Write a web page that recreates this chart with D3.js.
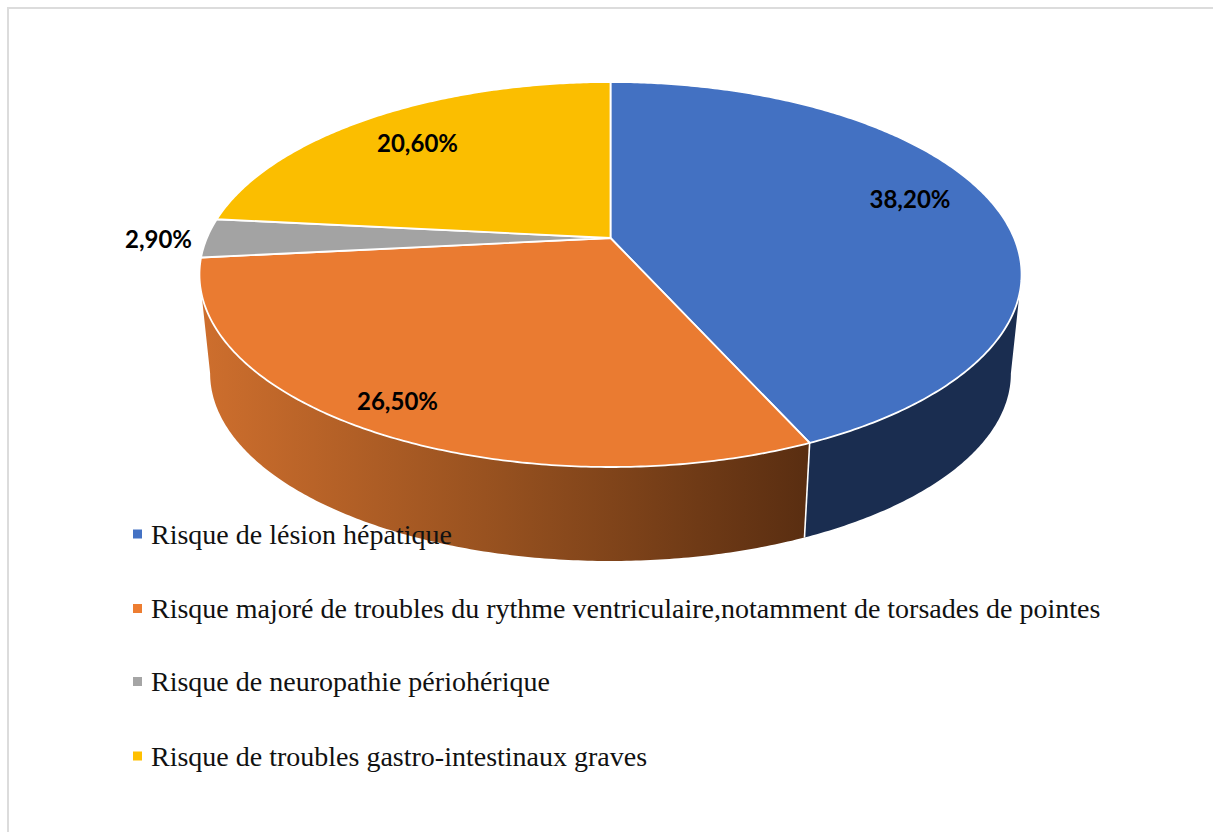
<!DOCTYPE html>
<html>
<head>
<meta charset="utf-8">
<script src="https://cdn.jsdelivr.net/npm/d3@7"></script>
<style>
html,body{margin:0;padding:0;background:#fff;overflow:hidden}
svg{display:block}
</style>
</head>
<body>
<div id="chart"></div>
<script>
// Data
const categories = [
  "Risque de lésion hépatique",
  "Risque majoré de troubles du rythme ventriculaire,notamment de torsades de pointes",
  "Risque de neuropathie périohérique",
  "Risque de troubles gastro-intestinaux graves"
];
const values = [38.2, 26.5, 2.9, 20.6];
const valueLabels = ["38,20%", "26,50%", "2,90%", "20,60%"];
const colors = ["#4472c4", "#ed7d31", "#a5a5a5", "#ffc000"];
const topColors = ["#4371c2", "#ea7b31", "#a3a3a3", "#fbbe00"];

// Layout
const W = 1213, H = 832;
const pivot = {x: 610.5, y: 238};
const persp = {k: -0.1896, ax: 403.6, ay: 185.6};
const wallApex = {x: 610.5, y: 4081}, wallScale = 0.974;
const labelAnchors = [[910, 198], [397.5, 400], [158.5, 238], [417.5, 142]];
const legendRowY = [534, 608.5, 681.5, 756];

const svg = d3.select("#chart").append("svg").attr("width", W).attr("height", H);

svg.append("path")
  .attr("d", d3.line()([[8, H], [8, 8], [W, 8]]))
  .attr("fill", "none").attr("stroke", "#dcdcdc").attr("stroke-width", 2);

const defs = svg.append("defs");
const grad = defs.append("linearGradient").attr("id", "wallOrange")
  .attr("gradientUnits", "userSpaceOnUse")
  .attr("x1", 205).attr("x2", 805).attr("y1", 0).attr("y2", 0);
[[0, "#cd6e2d"], [0.5, "#95501f"], [1, "#5a2e11"]].forEach(([o, c]) =>
  grad.append("stop").attr("offset", o).attr("stop-color", c));

const arcs = d3.pie().sort(null).value(d => d)(values);

// plan (angle, radius) to perspective screen position
function project(theta, r = 1) {
  const px = r * Math.sin(theta), py = -r * Math.cos(theta);
  const w = 1 + persp.k * py;
  return [pivot.x + persp.ax * px / w, pivot.y + persp.ay * py / w];
}
const lower = ([x, y]) => [
  wallApex.x + wallScale * (x - wallApex.x),
  wallApex.y + wallScale * (y - wallApex.y)
];
function samples(a0, a1) {
  const n = Math.max(2, Math.ceil((a1 - a0) / 0.01));
  return d3.range(n + 1).map(i => a0 + (a1 - a0) * i / n);
}

// Silhouette tangents of the perspective ellipse
const tangentR = Math.acos(persp.k);
const tangentL = 2 * Math.PI - tangentR;
const line = d3.line();
const wallFill = ["#1a2d50", "url(#wallOrange)", "#636363", "#977300"];

arcs.forEach((a, i) => {
  const a0 = Math.max(a.startAngle, tangentR), a1 = Math.min(a.endAngle, tangentL);
  if (a1 <= a0) return;
  const top = samples(a0, a1).map(t => project(t));
  const poly = top.concat(top.slice().reverse().map(lower));
  svg.append("path").attr("d", line(poly) + "Z").attr("fill", wallFill[i]);
});

// separators on the wall
arcs.forEach(a => {
  [a.startAngle].filter(t => t > tangentR && t < tangentL).forEach(t => {
    const p = project(t);
    svg.append("path").attr("d", line([p, lower(p)]))
      .attr("stroke", "#fff").attr("stroke-width", 1.6).attr("fill", "none");
  });
});

// top faces
arcs.forEach((a, i) => {
  const rim = samples(a.startAngle, a.endAngle).map(t => project(t));
  svg.append("path")
    .attr("d", line([[pivot.x, pivot.y], ...rim]) + "Z")
    .attr("fill", topColors[i])
    .attr("stroke", "#fff").attr("stroke-width", 1.8).attr("stroke-linejoin", "round");
});

// data labels
svg.selectAll("text.val").data(valueLabels).join("text").attr("class", "val")
  .attr("x", (d, i) => labelAnchors[i][0])
  .attr("y", (d, i) => labelAnchors[i][1])
  .attr("text-anchor", "middle").attr("dominant-baseline", "central")
  .attr("font-family", "Lato, 'Open Sans', sans-serif")
  .attr("font-weight", 700).attr("font-size", 24).attr("fill", "#000")
  .text(d => d);

// legend
const rows = svg.selectAll("g.leg").data(categories).join("g").attr("class", "leg")
  .attr("transform", (d, i) => `translate(0,${legendRowY[i]})`);
rows.append("rect").attr("x", 133).attr("y", -4.5).attr("width", 9).attr("height", 9)
  .attr("fill", (d, i) => colors[i]);
rows.append("text").attr("x", 151).attr("y", 9.5)
  .attr("font-family", "'Liberation Serif', serif").attr("font-size", 28)
  .attr("fill", "#111").text(d => d);
</script>
</body>
</html>
